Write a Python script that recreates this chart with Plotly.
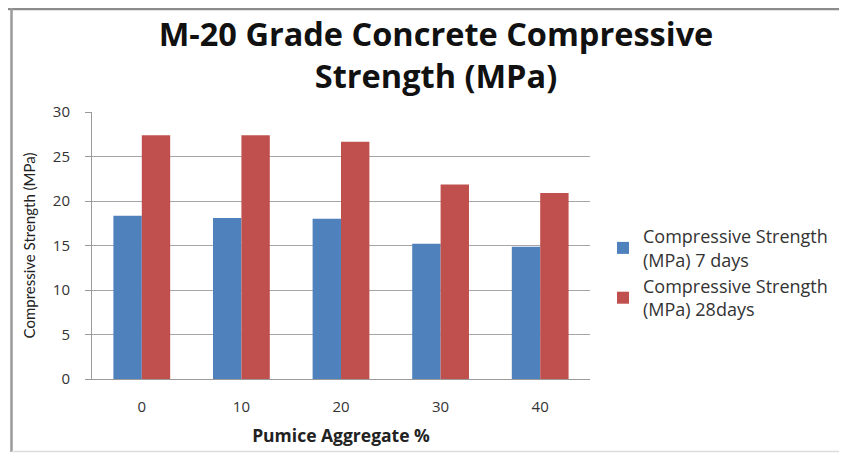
import plotly.graph_objects as go

categories = ["0", "10", "20", "30", "40"]
strength_7 = [18.35, 18.1, 18.0, 15.2, 14.85]
strength_28 = [27.4, 27.4, 26.65, 21.85, 20.9]
series_names = ["Compressive Strength<br>(MPa) 7 days", "Compressive Strength<br>(MPa) 28days"]
y_ticks = [0, 5, 10, 15, 20, 25, 30]

# page is offset by the default 8px body margin
OFF = 8
W, H = 847 - OFF, 453 - OFF
L, R, T, B = 92 - OFF, W - (590 - OFF), 112 - OFF, H - (379 - OFF)

fig = go.Figure()
fig.add_trace(go.Bar(x=categories, y=strength_7, name=series_names[0],
                     marker=dict(color="#4F81BD", line=dict(width=0))))
fig.add_trace(go.Bar(x=categories, y=strength_28, name=series_names[1],
                     marker=dict(color="#C0504D", line=dict(width=0))))

pw = W - L - R
ph = H - T - B
def px_x(x):
    return (x - OFF - L) / pw
def px_y(y):
    return (H - B - (y - OFF)) / ph

fig.update_layout(
    width=W, height=H,
    margin=dict(l=L, r=R, t=T, b=B, autoexpand=False),
    paper_bgcolor="white", plot_bgcolor="white",
    barmode="group", bargap=0.43, bargroupgap=0,
    font=dict(family="Open Sans", color="#222222"),
    title=dict(text="<b>M-20 Grade Concrete Compressive<br>Strength (MPa)</b>",
               x=(436 - OFF) / W, xref="container", xanchor="center",
               y=1 - (46 - OFF) / H, yref="container", yanchor="middle",
               font=dict(family="Open Sans", size=32.5, color="#111111")),
    legend=dict(x=(603 - OFF) / W, xref="container", y=px_y(273), xanchor="left", yanchor="middle",
                font=dict(family="Open Sans", size=18, color="#333333"),
                tracegroupgap=6, itemwidth=30, bgcolor="rgba(0,0,0,0)"),
    showlegend=True,
    shapes=[
        dict(type="line", xref="paper", yref="paper",
             x0=px_x(OFF), x1=px_x(847), y0=px_y(OFF + 1), y1=px_y(OFF + 1),
             line=dict(color="#8c8c8c", width=2.5)),
        dict(type="line", xref="paper", yref="paper",
             x0=px_x(11.5), x1=px_x(11.5), y0=px_y(OFF), y1=px_y(452),
             line=dict(color="#9a9a9a", width=2.5)),
        dict(type="line", xref="paper", yref="paper",
             x0=px_x(11.5), x1=px_x(847), y0=px_y(451.5), y1=px_y(451.5),
             line=dict(color="#dcdcdc", width=1.5)),
    ],
)
fig.update_xaxes(type="category", showline=True, linecolor="#9a9a9a", linewidth=1,
                 ticks="", ticklabelstandoff=14,
                 tickfont=dict(family="Open Sans", size=15, color="#333333"),
                 title=dict(text="<b>Pumice Aggregate %</b>", standoff=14,
                            font=dict(family="Open Sans", size=17.5, color="#222222")))
fig.update_yaxes(range=[0, 30], tickvals=y_ticks, showgrid=True, gridcolor="#a6a6a6", gridwidth=1,
                 showline=True, linecolor="#9a9a9a", linewidth=1, ticks="outside", ticklen=6,
                 tickcolor="#9a9a9a", zeroline=False, ticklabelstandoff=12,
                 tickfont=dict(family="Open Sans", size=15, color="#333333"),
                 title=dict(text="Compressive Strength (MPa)", standoff=13,
                            font=dict(family="Lato", size=15, color="#222222")))

fig.write_html("out.html")
